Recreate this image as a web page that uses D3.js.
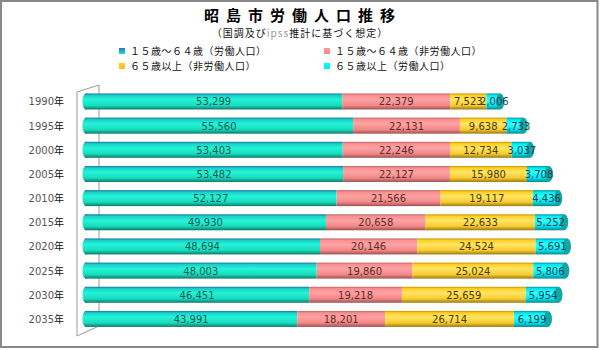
<!DOCTYPE html>
<html>
<head>
<meta charset="utf-8">
<script src="https://cdn.jsdelivr.net/npm/d3@7"></script>
<style>
  body { margin: 0; background: #fff; }
  svg { display: block; }
</style>
</head>
<body>
<svg width="600" height="350"></svg>
<script>
// data
const years = ['1990', '1995', '2000', '2005', '2010', '2015', '2020', '2025', '2030', '2035'];
const labor1564 = [53299, 55560, 53403, 53482, 52127, 49930, 48694, 48003, 46451, 43991];
const nonLabor1564 = [22379, 22131, 22246, 22127, 21566, 20658, 20146, 19860, 19218, 18201];
const nonLabor65 = [7523, 9638, 12734, 15980, 19117, 22633, 24524, 25024, 25659, 26714];
const labor65 = [2006, 2733, 3037, 3708, 4436, 5252, 5691, 5806, 5954, 6199];
const seriesNames = ['１５歳～６４歳（労働人口）', '１５歳～６４歳（非労働人口）', '６５歳以上（非労働人口）', '６５歳以上（労働人口）'];

const svg = d3.select('svg');
const width = +svg.attr('width');
const height = +svg.attr('height');

const keys = ['a', 'b', 'c', 'd'];
const rows = years.map((y, i) => ({
    year: y,
    a: labor1564[i],
    b: nonLabor1564[i],
    c: nonLabor65[i],
    d: labor65[i],
}));

// colours per series: gradient stops, label colour, legend colour
const styles = [
    { stops: ['#1a6fa8', '#19cfc6', '#24f4d8', '#18dcbc', '#0b7a6a'], label: '#1d5a52', key: ['#1a78d0', '#20e0c0'] },
    { stops: ['#c06464', '#f89090', '#ffa2a2', '#f08888', '#a05050'], label: '#5a2e2e', key: ['#ff9a9a', '#f08888'] },
    { stops: ['#c89400', '#ffd020', '#ffe466', '#f8cc30', '#9a7a10'], label: '#4a3a10', key: ['#ffd020', '#f8c020'] },
    { stops: ['#0090a0', '#00e8f0', '#30ffff', '#00e4ee', '#008890'], label: '#1d4450', key: ['#00ffff', '#00e8f0'] },
];
const capColor = '#12a6a6';

const defs = svg.append('defs');
styles.forEach((s, i) => {
    const g = defs.append('linearGradient')
        .attr('id', 'grad' + i)
        .attr('x1', 0).attr('y1', 0).attr('x2', 0).attr('y2', 1);
    [0, 0.12, 0.38, 0.75, 1].forEach((o, j) => {
        g.append('stop').attr('offset', o).attr('stop-color', s.stops[j]);
    });
    const k = defs.append('linearGradient')
        .attr('id', 'key' + i)
        .attr('x1', 0).attr('y1', 0).attr('x2', 0).attr('y2', 1);
    k.append('stop').attr('offset', 0).attr('stop-color', s.key[0]);
    k.append('stop').attr('offset', 1).attr('stop-color', s.key[1]);
});

// frame
svg.append('rect')
    .attr('x', 1).attr('y', 1)
    .attr('width', width - 3.5).attr('height', height - 4)
    .attr('fill', '#fff')
    .attr('stroke', '#888')
    .attr('stroke-width', 2);

// TITLE
svg.append('text')
    .attr('x', 303).attr('y', 21)
    .attr('text-anchor', 'middle')
    .attr('font-family', '"Noto Sans CJK JP"')
    .attr('font-size', 15)
    .attr('font-weight', 'bold')
    .attr('letter-spacing', 7)
    .text('昭島市労働人口推移');

const sub = svg.append('text')
    .attr('x', 300).attr('y', 37)
    .attr('text-anchor', 'middle')
    .attr('font-family', '"Noto Sans CJK JP"')
    .attr('font-size', 10)
    .attr('letter-spacing', 1)
    .attr('fill', '#111');
sub.append('tspan').text('（国調及び');
sub.append('tspan').attr('fill', '#999').text('ipss');
sub.append('tspan').text('推計に基づく想定）');

// SCALES
const xScale = d3.scaleLinear()
    .domain([0, 100000])
    .range([85, 567.6]);
const yScale = d3.scalePoint()
    .domain(years)
    .range([89.4, 331])
    .padding(0.5);
const barH = 16;

// back wall lines
const wall = svg.append('g')
    .attr('stroke', '#999')
    .attr('fill', 'none');
wall.append('path').attr('d', 'M77,336 L77,92 L99,85 L99,326 L77,336');

// LEGEND
const legend = svg.append('g');
const legendPos = [[119, 53], [324, 53], [119, 68], [324, 68]];
seriesNames.forEach((name, i) => {
    const [lx, ly] = legendPos[i];
    legend.append('rect')
        .attr('x', lx).attr('y', ly - 5)
        .attr('width', 6).attr('height', 6)
        .attr('fill', `url(#key${i})`);
    legend.append('text')
        .attr('x', lx + 11).attr('y', ly + 2)
        .attr('font-family', '"Noto Sans CJK JP"')
        .attr('font-size', 10)
        .attr('letter-spacing', 0.5)
        .attr('fill', '#111')
        .text(name);
});

// STACKED CYLINDERS
const stacked = d3.stack().keys(keys)(rows);
const bars = svg.append('g');

rows.forEach((d, i) => {
    const cy = yScale(d.year);
    const top = cy - barH / 2;
    const total = d.a + d.b + d.c + d.d;
    const xEnd = xScale(total);
    const row = bars.append('g');

    // left rounded cap
    row.append('ellipse')
        .attr('cx', xScale(0) + 1).attr('cy', cy)
        .attr('rx', 3.5).attr('ry', barH / 2)
        .attr('fill', 'url(#grad0)');

    stacked.forEach((layer, k) => {
        const x0 = xScale(layer[i][0]);
        let x1 = xScale(layer[i][1]);
        if (k === 3) x1 += 4;
        row.append('rect')
            .attr('x', x0).attr('y', top)
            .attr('width', x1 - x0).attr('height', barH)
            .attr('fill', `url(#grad${k})`);
    });

    // right end face
    row.append('ellipse')
        .attr('cx', xEnd + 4).attr('cy', cy)
        .attr('rx', 4).attr('ry', barH / 2)
        .attr('fill', capColor);

    stacked.forEach((layer, k) => {
        const x0 = xScale(layer[i][0]);
        const x1 = xScale(layer[i][1]);
        row.append('text')
            .attr('x', (x0 + x1) / 2 + (k === 3 ? 3 : 0))
            .attr('y', cy + 4)
            .attr('text-anchor', 'middle')
            .attr('font-family', '"DejaVu Sans"')
            .attr('font-size', 10)
            .attr('fill', styles[k].label)
            .text(d3.format(',')(layer[i][1] - layer[i][0]));
    });
});

// category labels
const cats = svg.append('g');
years.forEach(y => {
    const t = cats.append('text')
        .attr('x', 64).attr('y', yScale(y) + 4)
        .attr('text-anchor', 'end')
        .attr('font-size', 10);
    t.append('tspan').attr('font-family', '"DejaVu Sans"').attr('fill', '#555').text(y);
    t.append('tspan').attr('font-family', '"Noto Sans CJK JP"').attr('fill', '#111').text('年');
});
</script>
</body>
</html>
